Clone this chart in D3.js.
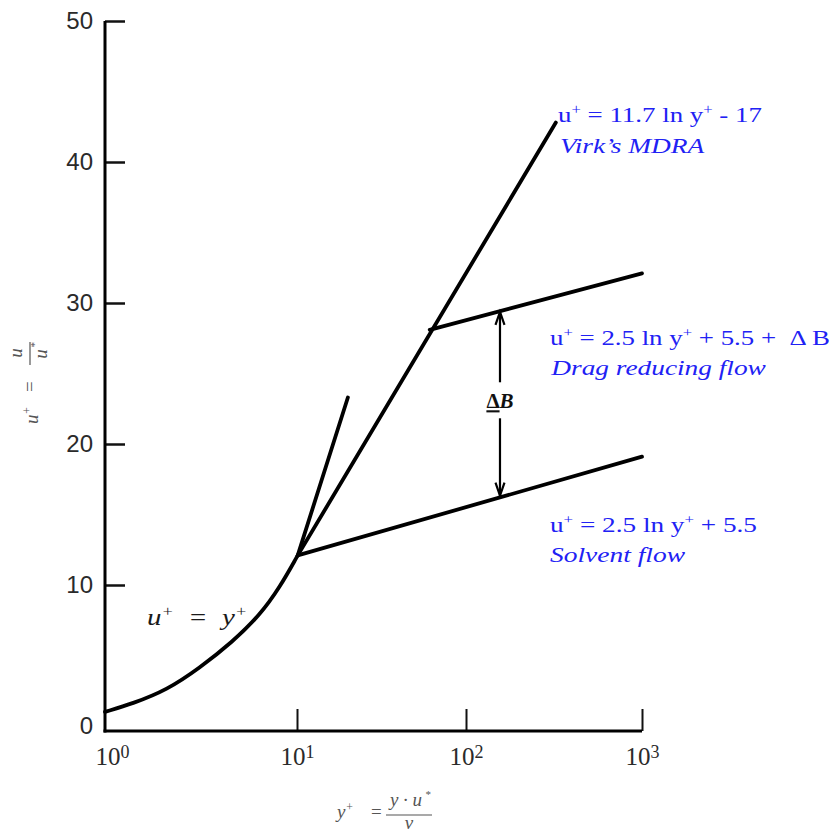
<!DOCTYPE html>
<html>
<head>
<meta charset="utf-8">
<script src="https://cdn.jsdelivr.net/npm/d3@7"></script>
<style>
  body { margin: 0; background: #fff; }
  text { white-space: pre; }
</style>
</head>
<body>
<svg id="chart" width="835" height="832"></svg>
<script>
// Mean velocity profiles in wall units (u+ against log y+)
const sublayerYPlus = [1.0, 1.4, 2.1, 3.1, 4.6, 6.4, 8.15, 10.1];
const sublayerUPlus = [1.0, 1.6, 2.55, 4.1, 5.95, 7.85, 9.85, 12.1];
const virkYPlus = [10.1, 324];
const virkUPlus = [12.1, 42.8];
const bufferYPlus = [10.1, 20.0];
const bufferUPlus = [12.1, 23.3];
const solventYPlus = [10.1, 1000];
const solventUPlus = [12.1, 19.1];
const dragYPlus = [61, 1000];
const dragUPlus = [28.1, 32.1];
const deltaBYPlus = 156;
const deltaBLabelU = 23.1;

const xTicks = [1, 10, 100, 1000];
const xTickExponents = ["0", "1", "2", "3"];
const yTicks = [0, 10, 20, 30, 40, 50];

// Annotation texts: [string, superscript?]
const virkEquation = [["u", false], ["+", true], [" = 11.7 ln y", false], ["+", true], [" - 17", false]];
const virkName = "Virk\u2019s MDRA";
const dragEquation = [["u", false], ["+", true], [" = 2.5 ln y", false], ["+", true], [" + 5.5 +  \u0394 B", false]];
const dragName = "Drag reducing flow";
const solventEquation = [["u", false], ["+", true], [" = 2.5 ln y", false], ["+", true], [" + 5.5", false]];
const solventName = "Solvent flow";
const sublayerLabel = [["u", false], ["+", true], ["  =  y", false], ["+", true]];

const svg = d3.select("#chart");
svg.append("rect").attr("width", 835).attr("height", 832).attr("fill", "#fff");

const x = d3.scaleLog().domain(xTicks).range([105, 297, 466, 642]);
const y = d3.scaleLinear().domain([0, 50]).range([726, 21]);
const axisBaseY = 731;

const serif = "'Liberation Serif', 'Times New Roman', serif";
const sans = "'Liberation Sans', Arial, sans-serif";
const blue = "#2121f4";

// ---- axes ----
const yAxis = d3.axisLeft(y).tickValues(yTicks).tickSize(-20).tickSizeOuter(0).tickPadding(12);
const gy = svg.append("g").attr("transform", `translate(${x(1)},0)`).call(yAxis);
gy.select(".domain").remove();
gy.selectAll(".tick line").attr("stroke", "#111").attr("stroke-width", 2.5);
gy.selectAll(".tick text").attr("font-family", sans).attr("font-size", 24).attr("fill", "#2a2a2a");
gy.selectAll(".tick").filter(d => d === 0).select("line").remove();

const xAxis = d3.axisBottom(x).tickValues(xTicks).tickSize(-22).tickSizeOuter(0).tickPadding(16).tickFormat("");
const gx = svg.append("g").attr("transform", `translate(0,${axisBaseY})`).call(xAxis);
gx.select(".domain").remove();
gx.selectAll(".tick line").attr("stroke", "#111").attr("stroke-width", 2);
gx.selectAll(".tick").filter(d => d === 1).select("line").remove();
gx.selectAll(".tick text")
  .attr("font-family", serif).attr("font-size", 25).attr("fill", "#2a2a2a")
  .attr("dx", d => d === 1 ? 7 : 0)
  .each(function(d, i) {
    const t = d3.select(this);
    t.append("tspan").text("10");
    t.append("tspan").attr("dy", "-0.4em").attr("font-size", 18).text(xTickExponents[i]);
  });

// axis spines
svg.append("line")
  .attr("x1", x(1)).attr("x2", x(1)).attr("y1", y(50)).attr("y2", axisBaseY + 1.5)
  .attr("stroke", "#000").attr("stroke-width", 3);
svg.append("line")
  .attr("x1", x(1) - 1.5).attr("x2", x(1000)).attr("y1", axisBaseY).attr("y2", axisBaseY)
  .attr("stroke", "#000").attr("stroke-width", 3);

// ---- profiles ----
const zip = (xs, us) => xs.map((v, i) => [v, us[i]]);
const straight = d3.line().x(d => x(d[0])).y(d => y(d[1]));
const smooth = d3.line().x(d => x(d[0])).y(d => y(d[1])).curve(d3.curveBasis);

const curves = svg.append("g").attr("fill", "none").attr("stroke", "#000")
  .attr("stroke-width", 3.8).attr("stroke-linecap", "round").attr("stroke-linejoin", "round");
curves.append("path").attr("d", smooth(zip(sublayerYPlus, sublayerUPlus)));
curves.append("path").attr("d", straight(zip(virkYPlus, virkUPlus)));
curves.append("path").attr("d", straight(zip(bufferYPlus, bufferUPlus)));
curves.append("path").attr("d", straight(zip(solventYPlus, solventUPlus)));
curves.append("path").attr("d", straight(zip(dragYPlus, dragUPlus)));

// ---- Delta B double arrow between the two log-law lines ----
function valueAt(xs, us, yp) {
  const t = (Math.log10(yp) - Math.log10(xs[0])) / (Math.log10(xs[1]) - Math.log10(xs[0]));
  return us[0] + t * (us[1] - us[0]);
}
const uTop = valueAt(dragYPlus, dragUPlus, deltaBYPlus);
const uBot = valueAt(solventYPlus, solventUPlus, deltaBYPlus);
const ax = x(deltaBYPlus);
const arrow = svg.append("g").attr("stroke", "#000").attr("fill", "none").attr("stroke-width", 2.2);
arrow.append("line").attr("x1", ax).attr("x2", ax).attr("y1", y(uTop)).attr("y2", y(uBot));
arrow.append("path").attr("d", `M${ax - 4.5},${y(uTop) + 14} L${ax},${y(uTop) + 1} L${ax + 4.5},${y(uTop) + 14}`);
arrow.append("path").attr("d", `M${ax - 4.5},${y(uBot) - 14} L${ax},${y(uBot) - 1} L${ax + 4.5},${y(uBot) - 14}`);
svg.append("rect").attr("x", ax - 17).attr("y", y(deltaBLabelU) - 18).attr("width", 34).attr("height", 36).attr("fill", "#fff");
const db = svg.append("text").attr("x", ax).attr("y", y(deltaBLabelU) + 8)
  .attr("text-anchor", "middle").attr("font-family", serif).attr("font-size", 21)
  .attr("font-weight", "bold").attr("fill", "#111");
db.append("tspan").attr("text-decoration", "underline").text("\u0394");
db.append("tspan").attr("font-style", "italic").text("B");

// ---- text helpers ----
function addRich(text, parts, fs) {
  let raised = false;
  parts.forEach(([s, sup]) => {
    const t = text.append("tspan").text(s);
    if (sup) {
      t.attr("font-size", fs * 0.62);
      if (!raised) { t.attr("dy", -fs * 0.38); raised = true; }
    } else if (raised) {
      t.attr("dy", fs * 0.38); raised = false;
    }
  });
}
// place text so its ink box starts at left and spans the given width
function fitLabel(build, left, baseline, width) {
  const g = svg.append("g");
  const t = g.append("text");
  build(t);
  const b = t.node().getBBox();
  const sx = width / b.width;
  g.attr("transform", `translate(${left},${baseline}) scale(${sx},1) translate(${-b.x},0)`);
  return g;
}

// blue annotations
fitLabel(t => { t.attr("font-family", serif).attr("font-size", 22).attr("fill", blue); addRich(t, virkEquation, 22); }, 558, 122, 204);
fitLabel(t => { t.attr("font-family", serif).attr("font-size", 22).attr("font-style", "italic").attr("fill", blue).text(virkName); }, 560, 153, 145);
fitLabel(t => { t.attr("font-family", serif).attr("font-size", 21).attr("fill", blue); addRich(t, dragEquation, 21); }, 550, 345, 280);
fitLabel(t => { t.attr("font-family", serif).attr("font-size", 21).attr("font-style", "italic").attr("fill", blue).text(dragName); }, 550, 375, 216);
fitLabel(t => { t.attr("font-family", serif).attr("font-size", 21).attr("fill", blue); addRich(t, solventEquation, 21); }, 550, 532, 207);
fitLabel(t => { t.attr("font-family", serif).attr("font-size", 21).attr("font-style", "italic").attr("fill", blue).text(solventName); }, 550, 562, 135);

// viscous sublayer label
fitLabel(t => { t.attr("font-family", serif).attr("font-size", 24).attr("font-style", "italic").attr("fill", "#1a1a1a"); addRich(t, sublayerLabel, 24); }, 147, 625, 100);

// ---- axis titles ----
const grey = "#555";
// y+ = y·u*/ν
const xt = svg.append("g").attr("font-family", serif).attr("font-style", "italic").attr("fill", grey).attr("font-size", 19);
const xl = xt.append("text").attr("x", 337).attr("y", 818);
addRich(xl, [["y", false], ["+", true]], 19);
xt.append("text").attr("x", 371).attr("y", 818).attr("font-style", "normal").text("=");
xt.append("text").attr("x", 406).attr("y", 806).attr("text-anchor", "middle").text("y \u00b7 u");
xt.append("text").attr("x", 425).attr("y", 798).attr("font-size", 11).text("*");
xt.append("line").attr("x1", 386).attr("x2", 432).attr("y1", 815).attr("y2", 815).attr("stroke", grey).attr("stroke-width", 1.2);
xt.append("text").attr("x", 409).attr("y", 829).attr("text-anchor", "middle").text("\u03bd");

// u+ = u/u*  (rotated)
const yt = svg.append("g").attr("transform", "translate(31,380) rotate(-90)")
  .attr("font-family", serif).attr("font-style", "italic").attr("fill", grey).attr("font-size", 19);
const yl = yt.append("text").attr("x", -44).attr("y", 7);
addRich(yl, [["u", false], ["+", true]], 19);
yt.append("text").attr("x", -12).attr("y", 5).attr("font-style", "normal").text("=");
yt.append("text").attr("x", 27).attr("y", -9).attr("text-anchor", "middle").text("u");
yt.append("line").attr("x1", 15).attr("x2", 38).attr("y1", -1).attr("y2", -1).attr("stroke", grey).attr("stroke-width", 1.2);
yt.append("text").attr("x", 26).attr("y", 16).attr("text-anchor", "middle").text("u");
yt.append("text").attr("x", 32).attr("y", 7).attr("font-size", 11).text("*");
</script>
</body>
</html>
